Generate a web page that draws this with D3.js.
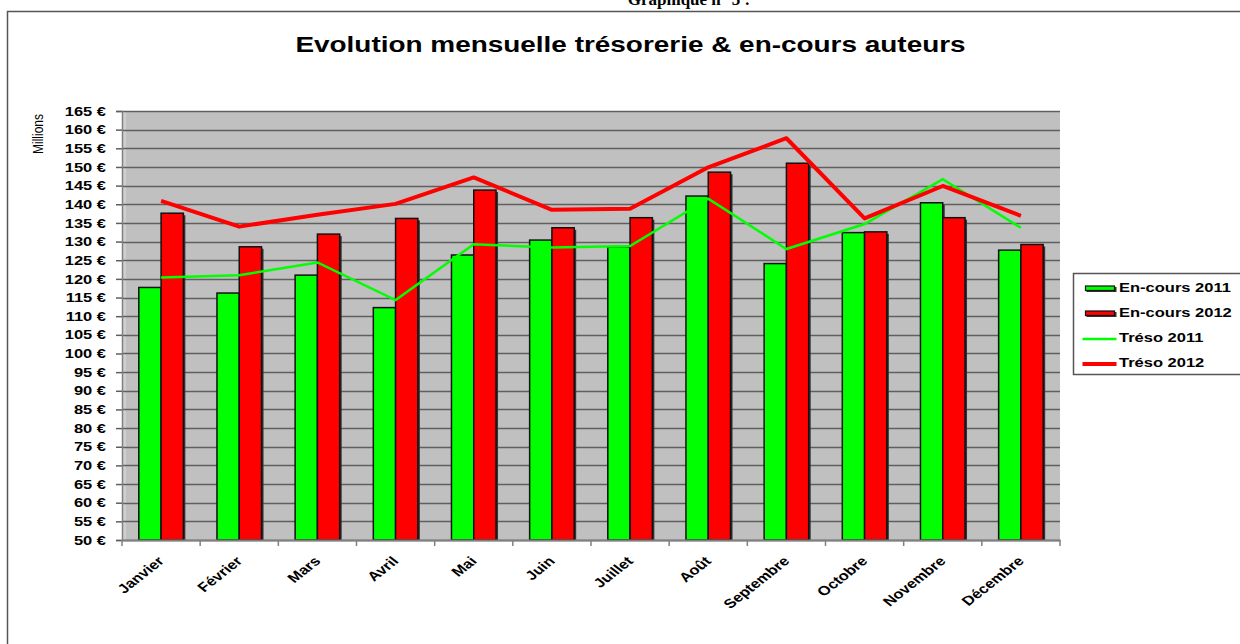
<!DOCTYPE html>
<html>
<head>
<meta charset="utf-8">
<script src="https://cdn.jsdelivr.net/npm/d3@7"></script>
<style>
  body { margin: 0; background: #fff; }
  svg { display: block; }
</style>
</head>
<body>
<div id="chart"></div>
<script>
// data (millions of euros)
const months = ["Janvier", "Février", "Mars", "Avril", "Mai", "Juin", "Juillet", "Août", "Septembre", "Octobre", "Novembre", "Décembre"];
const encours2011 = [117.7, 116.2, 121.0, 112.3, 126.4, 130.4, 128.6, 142.2, 124.1, 132.4, 140.4, 127.7];
const encours2012 = [137.6, 128.6, 132.0, 136.2, 143.8, 133.7, 136.4, 148.6, 151.0, 132.6, 136.4, 129.2];
const treso2011 = [120.4, 121.0, 124.4, 114.3, 129.3, 128.4, 128.8, 141.5, 128.0, 134.7, 146.7, 133.7];
const treso2012 = [140.9, 134.0, 137.2, 140.1, 147.2, 138.5, 138.8, 149.9, 157.7, 136.2, 144.9, 136.9];
const yTicks = d3.range(50, 166, 5);

const seriesNames = ["En-cours 2011", "En-cours 2012", "Tréso 2011", "Tréso 2012"];
const green = "#00ff00";
const red = "#ff0000";

const width = 1240, height = 644;
const plot = { left: 122, right: 1060, top: 111, bottom: 540 };
// the original picture is stretched sideways, text included
const stretch = 1.27;

const svg = d3.select("#chart").append("svg")
    .attr("width", width)
    .attr("height", height)
    .style("font-family", "Arial, 'Liberation Sans', sans-serif");

// page caption, cut by the top edge
svg.append("text")
    .attr("x", 689)
    .attr("y", 5)
    .attr("text-anchor", "middle")
    .style("font-family", "'Liberation Serif', 'Times New Roman', serif")
    .style("font-weight", "bold")
    .style("font-size", "17px")
    .text("Graphique n° 3 :");

// frame
svg.append("path")
    .attr("d", "M7.5,650 V11.5 H1250")
    .attr("fill", "none")
    .attr("stroke", "#555")
    .attr("stroke-width", 1.5);

// title
svg.append("text")
    .attr("transform", `translate(630.5,52) scale(${stretch},1)`)
    .attr("text-anchor", "middle")
    .style("font-weight", "bold")
    .style("font-size", "22px")
    .text("Evolution mensuelle trésorerie & en-cours auteurs");

const x = d3.scaleBand()
    .domain(months)
    .range([plot.left, plot.right]);

const y = d3.scaleLinear()
    .domain([50, 165])
    .range([plot.bottom, plot.top]);

const barW = x.bandwidth() * 0.285;

// plot background
svg.append("rect")
    .attr("x", plot.left)
    .attr("y", plot.top)
    .attr("width", plot.right - plot.left)
    .attr("height", plot.bottom - plot.top)
    .attr("fill", "#c0c0c0");
svg.append("rect")
    .attr("x", plot.left)
    .attr("y", plot.top)
    .attr("width", 4)
    .attr("height", plot.bottom - plot.top)
    .attr("fill", "#cfcfcf");

// gridlines
svg.append("g")
    .selectAll("line")
    .data(yTicks)
    .join("line")
    .attr("x1", plot.left)
    .attr("x2", plot.right)
    .attr("y1", d => Math.round(y(d)) + 0.5)
    .attr("y2", d => Math.round(y(d)) + 0.5)
    .attr("stroke", "#5f5f5f")
    .attr("stroke-width", 1.5);

// y axis
const yAxis = svg.append("g")
    .attr("transform", `translate(${plot.left},0)`)
    .call(d3.axisLeft(y).tickValues(yTicks).tickSize(6).tickFormat(d => d + " €"));
yAxis.select(".domain").attr("stroke", "#808080").attr("stroke-width", 1.5);
yAxis.selectAll(".tick line").attr("stroke", "#5f5f5f").attr("stroke-width", 1.5);
yAxis.selectAll("text")
    .attr("x", 0)
    .attr("transform", `translate(-16,0) scale(${stretch},1)`)
    .style("font-family", "Arial, 'Liberation Sans', sans-serif")
    .style("font-weight", "bold")
    .style("font-size", "13px")
    .attr("fill", "#000");

svg.append("text")
    .attr("transform", `translate(43,134) scale(${stretch},1) rotate(-90)`)
    .attr("text-anchor", "middle")
    .style("font-size", "12px")
    .text("Millions");

// bars
const bars = svg.append("g");
function drawBars(values, color, offset) {
  // dark shadow to the right
  bars.append("g")
      .selectAll("rect")
      .data(values)
      .join("rect")
      .attr("x", (d, i) => x(months[i]) + x.bandwidth() / 2 + offset + 2)
      .attr("y", d => y(d) + 2)
      .attr("width", barW)
      .attr("height", d => plot.bottom - y(d) - 2)
      .attr("fill", "#333");
  bars.append("g")
      .selectAll("rect")
      .data(values)
      .join("rect")
      .attr("x", (d, i) => x(months[i]) + x.bandwidth() / 2 + offset)
      .attr("y", d => y(d))
      .attr("width", barW)
      .attr("height", d => plot.bottom - y(d))
      .attr("fill", color)
      .attr("stroke", "#111")
      .attr("stroke-width", 1.5);
}
drawBars(encours2011, green, -barW);
drawBars(encours2012, red, 0);

// x axis
const xAxis = svg.append("g")
    .attr("transform", `translate(0,${plot.bottom})`)
    .call(d3.axisBottom(x).tickSize(0).tickFormat(""));
xAxis.select(".domain").attr("stroke", "#808080").attr("stroke-width", 2);
svg.append("g")
    .selectAll("line")
    .data(d3.range(months.length + 1))
    .join("line")
    .attr("x1", i => plot.left + i * x.step())
    .attr("x2", i => plot.left + i * x.step())
    .attr("y1", plot.bottom)
    .attr("y2", plot.bottom + 6)
    .attr("stroke", "#808080")
    .attr("stroke-width", 1.5);

svg.append("g")
    .selectAll("text")
    .data(months)
    .join("text")
    .attr("transform", d => `translate(${x(d) + x.bandwidth() / 2 + 4},${plot.bottom + 22}) scale(${stretch},1) rotate(-45)`)
    .attr("text-anchor", "end")
    .style("font-weight", "bold")
    .style("font-size", "13px")
    .text(d => d);

// lines
const line = d3.line()
    .x((d, i) => x(months[i]) + x.bandwidth() / 2)
    .y(d => y(d));

svg.append("path")
    .datum(treso2011)
    .attr("d", line)
    .attr("fill", "none")
    .attr("stroke", green)
    .attr("stroke-width", 2.5);

svg.append("path")
    .datum(treso2012)
    .attr("d", line)
    .attr("fill", "none")
    .attr("stroke", red)
    .attr("stroke-width", 4)
    .attr("stroke-linejoin", "round");

// legend
const legend = svg.append("g").attr("transform", "translate(1073.5,273.5)");
legend.append("rect")
    .attr("width", 180)
    .attr("height", 101)
    .attr("fill", "#fff")
    .attr("stroke", "#555")
    .attr("stroke-width", 1.5);

const legendColors = [green, red, green, red];
seriesNames.forEach((name, i) => {
  const base = 18.5 + i * 25;
  if (i < 2) {
    legend.append("rect")
        .attr("x", 13)
        .attr("y", base - 5)
        .attr("width", 30)
        .attr("height", 5)
        .attr("fill", "#333");
    legend.append("rect")
        .attr("x", 12)
        .attr("y", base - 6)
        .attr("width", 29)
        .attr("height", 4.5)
        .attr("fill", legendColors[i])
        .attr("stroke", "#111")
        .attr("stroke-width", 1.2);
  } else {
    legend.append("line")
        .attr("x1", 9)
        .attr("x2", 43)
        .attr("y1", base - 3)
        .attr("y2", base - 3)
        .attr("stroke", legendColors[i])
        .attr("stroke-width", i === 2 ? 2.5 : 4);
  }
  legend.append("text")
      .attr("transform", `translate(45.5,${base}) scale(${stretch},1)`)
      .style("font-weight", "bold")
      .style("font-size", "13px")
      .text(name);
});
</script>
</body>
</html>
